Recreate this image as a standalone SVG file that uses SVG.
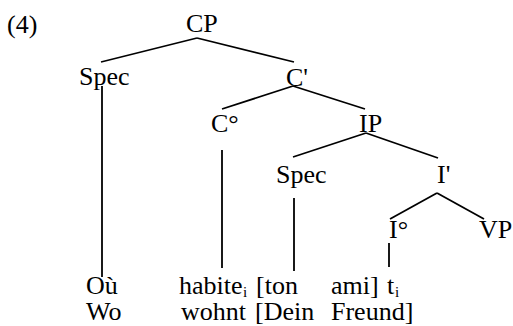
<svg xmlns="http://www.w3.org/2000/svg" width="513" height="326" viewBox="0 0 513 326">
<style>
.t{font-family:'Liberation Serif','Times New Roman',Times,serif;font-size:26px;fill:#000}
.sub{font-size:15px}
line{stroke:#000;stroke-width:1.8;stroke-linecap:butt}
</style>
<rect width="513" height="326" fill="#fff"/>
<g class="t">
<text x="7" y="33">(4)</text>
</g>
<g id="connectors">
<line x1="197" y1="38" x2="101" y2="62"/>
<line x1="197" y1="38" x2="294" y2="62"/>
<line x1="293" y1="86" x2="222" y2="109"/>
<line x1="293" y1="86" x2="365" y2="109"/>
<line x1="366" y1="133" x2="293" y2="157"/>
<line x1="366" y1="133" x2="438" y2="158"/>
<line x1="437" y1="193" x2="390" y2="219"/>
<line x1="437" y1="193" x2="484" y2="219"/>
<line x1="102" y1="86" x2="102" y2="277"/>
<line x1="222" y1="150" x2="222" y2="268"/>
<line x1="294" y1="198" x2="294" y2="271"/>
<line x1="389" y1="243" x2="389" y2="267"/>
</g>
<g class="t">
<g id="CP"><text x="186" y="32">CP</text></g>
<g id="Spec1"><text x="79" y="85">Spec</text></g>
<g id="C1"><text x="286" y="86">C'</text></g>
<g id="C0"><text x="211" y="132">C°</text></g>
<g id="IP"><text x="359" y="132">IP</text></g>
<g id="Spec2"><text x="276" y="183">Spec</text></g>
<g id="I1"><text x="437" y="183">I'</text></g>
<g id="I0"><text x="389" y="238">I°</text></g>
<g id="VP"><text x="479" y="238">VP</text></g>
<g id="words">
<text x="86" y="294">Où</text>
<text x="179" y="294">habite</text>
<text class="sub" x="243" y="297">i</text>
<text x="256" y="294">[ton</text>
<text x="331" y="294">ami]</text>
<text x="387" y="294">t</text>
<text class="sub" x="395" y="297">i</text>
<text x="86" y="320">Wo</text>
<text x="181" y="320">wohnt</text>
<text x="255" y="320">[Dein</text>
<text x="331" y="320">Freund]</text>
</g>
</g>
</svg>
